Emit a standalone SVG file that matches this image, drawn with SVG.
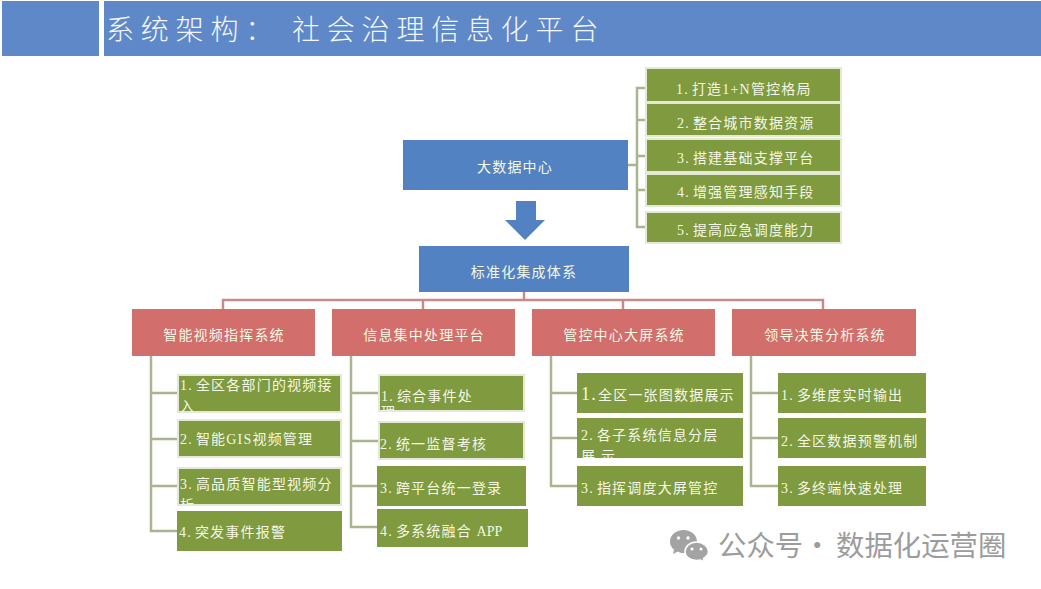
<svg xmlns="http://www.w3.org/2000/svg" width="1041" height="589" viewBox="0 0 1041 589">
  <style>
    text { font-family: "Liberation Serif", "Noto Sans CJK SC", sans-serif; fill: #f4f8e4; font-size: 14px; letter-spacing: 1.2px; }
    .title { font-size: 28px; letter-spacing: 6.8px; fill: #f3f7fb; font-family: "Noto Sans CJK SC", sans-serif; font-weight: 300; }
    .mid { text-anchor: middle; }
    .leaf { fill: #7f9a3f; }
    .ring { fill: #7f9a3f; stroke: #e3e9d5; stroke-width: 2; }
    .blue { fill: #5282c2; }
    .red { fill: #d26e6c; }
    .tree { fill: none; stroke: #a9b58e; stroke-width: 2.5; }
    .bus { fill: none; stroke: #c98a8c; stroke-width: 2.5; }
    .mark { font-size: 28.4px; letter-spacing: 0; fill: #9c9c9c; font-family: "Noto Sans CJK SC", sans-serif; }
    .bubble { fill: #a3a3a3; }
    .eye { fill: #ffffff; }
  </style>
  <defs>
    <clipPath id="clip-a1"><rect x="178" y="375" width="163" height="37"/></clipPath>
    <clipPath id="clip-a3"><rect x="178" y="468" width="163" height="37"/></clipPath>
    <clipPath id="clip-b1"><rect x="379" y="375" width="145" height="36"/></clipPath>
    <clipPath id="clip-c2"><rect x="577" y="418" width="166" height="40"/></clipPath>
  </defs>
  <rect width="1041" height="589" fill="#ffffff"/>

  <g id="header">
    <rect x="2" y="1" width="97" height="55" fill="#5f88c8"/>
    <rect x="104" y="1" width="937" height="55" fill="#5f88c8"/>
    <text class="title" y="40"><tspan x="106">系统架构：</tspan><tspan x="292">社会治理信息化平台</tspan></text>
  </g>

  <g id="connectors">
    <path class="tree" d="M628 165H637M646 88H637V227H646M637 120H646M637 156H646M637 190H646"/>
    <path class="bus" d="M524 292V300M223 309V300H823V309M423 300V309M623 300V309"/>
    <path class="tree" d="M151 356V531H177M151 393H178M151 439H178M151 486H178"/>
    <path class="tree" d="M351 356V527H377M351 393H379M351 441H379M351 486H377"/>
    <path class="tree" d="M551 356V486H577M551 393H577M551 438H577"/>
    <path class="tree" d="M751 356V486H778M751 393H778M751 438H778"/>
  </g>

  <g id="big-data">
    <rect class="blue" x="403" y="140" width="225" height="50"/>
    <text class="mid" x="515" y="172">大数据中心</text>
  </g>
  <g id="flow-arrow">
    <path class="blue" d="M516 201H536V220H545L525 240L505 220H516Z"/>
  </g>
  <g id="integration">
    <rect class="blue" x="419" y="246" width="210" height="46"/>
    <text class="mid" x="524" y="277">标准化集成体系</text>
  </g>

  <g id="goal-1"><rect class="ring" x="646" y="68" width="195" height="34"/><text x="676" y="94">1.<tspan dx="3">打造</tspan>1+N管控格局</text></g>
  <g id="goal-2"><rect class="ring" x="646" y="103" width="195" height="33"/><text x="677" y="128">2.<tspan dx="3">整合城市数据资源</tspan></text></g>
  <g id="goal-3"><rect class="ring" x="646" y="139" width="195" height="33"/><text x="677" y="163">3.<tspan dx="3">搭建基础支撑平台</tspan></text></g>
  <g id="goal-4"><rect class="ring" x="646" y="174" width="195" height="32"/><text x="677" y="197">4.<tspan dx="3">增强管理感知手段</tspan></text></g>
  <g id="goal-5"><rect class="ring" x="646" y="212" width="195" height="31"/><text x="677" y="235">5.<tspan dx="3">提高应急调度能力</tspan></text></g>

  <g id="sys-video"><rect class="red" x="132" y="309" width="183" height="47"/><text class="mid" x="224" y="340">智能视频指挥系统</text></g>
  <g id="sys-process"><rect class="red" x="332" y="309" width="183" height="47"/><text class="mid" x="424" y="340">信息集中处理平台</text></g>
  <g id="sys-screen"><rect class="red" x="532" y="309" width="183" height="47"/><text class="mid" x="624" y="340">管控中心大屏系统</text></g>
  <g id="sys-decision"><rect class="red" x="732" y="309" width="184" height="47"/><text class="mid" x="825" y="340">领导决策分析系统</text></g>

  <g id="video-1"><rect class="ring" x="178" y="375" width="163" height="37"/><g clip-path="url(#clip-a1)"><text x="180" y="390">1.<tspan dx="3">全区各部门的视频接</tspan></text><text x="180" y="411">入</text></g></g>
  <g id="video-2"><rect class="ring" x="178" y="420" width="163" height="37"/><text x="180" y="444">2.<tspan dx="3">智能</tspan>GIS视频管理</text></g>
  <g id="video-3"><rect class="ring" x="178" y="468" width="163" height="37"/><g clip-path="url(#clip-a3)"><text x="180" y="489">3.<tspan dx="3">高品质智能型视频分</tspan></text><text x="180" y="510">析</text></g></g>
  <g id="video-4"><rect class="leaf" x="177" y="511" width="165" height="40"/><text x="179" y="537">4.<tspan dx="3">突发事件报警</tspan></text></g>

  <g id="process-1"><rect class="ring" x="379" y="375" width="145" height="36"/><g clip-path="url(#clip-b1)"><text x="381" y="401">1.<tspan dx="3">综合事件处</tspan></text><text x="381" y="417">理</text></g></g>
  <g id="process-2"><rect class="ring" x="379" y="422" width="145" height="37"/><text x="380" y="449">2.<tspan dx="3">统一监督考核</tspan></text></g>
  <g id="process-3"><rect class="leaf" x="377" y="466" width="149" height="40"/><text x="380" y="493">3.<tspan dx="3">跨平台统一登录</tspan></text></g>
  <g id="process-4"><rect class="leaf" x="377" y="509" width="151" height="38"/><text x="380" y="536">4.<tspan dx="3">多系统融合</tspan> <tspan letter-spacing="0">APP</tspan></text></g>

  <g id="screen-1"><rect class="leaf" x="577" y="373" width="166" height="40"/><text x="581" y="400"><tspan font-size="18">1.</tspan><tspan x="598">全区一张图数据展示</tspan></text></g>
  <g id="screen-2"><rect class="leaf" x="577" y="418" width="166" height="40"/><g clip-path="url(#clip-c2)"><text x="581" y="440">2.<tspan dx="3">各子系统信息分层</tspan></text><text x="581" y="461">展 示</text></g></g>
  <g id="screen-3"><rect class="leaf" x="577" y="466" width="166" height="40"/><text x="581" y="493">3.<tspan dx="3">指挥调度大屏管控</tspan></text></g>

  <g id="decision-1"><rect class="leaf" x="778" y="373" width="148" height="40"/><text x="781" y="400">1.<tspan dx="3">多维度实时输出</tspan></text></g>
  <g id="decision-2"><rect class="leaf" x="778" y="418" width="148" height="40"/><text x="781" y="446">2.<tspan dx="3">全区数据预警机制</tspan></text></g>
  <g id="decision-3"><rect class="leaf" x="778" y="466" width="148" height="40"/><text x="781" y="493">3.<tspan dx="3">多终端快速处理</tspan></text></g>

  <g id="watermark">
    <path class="bubble" d="M683.5 530C676 530 670 535 670 541.500C670 545 671.500 547.500 674 549.500L673 554L678 551.500C679.500 552.500 681.500 553 683.500 553C691 553 697 548 697 541.500C697 535 691 530 683.500 530Z"/>
    <circle class="eye" cx="678.500" cy="538" r="1.700"/>
    <circle class="eye" cx="688" cy="538" r="1.700"/>
    <path class="bubble" stroke="#ffffff" stroke-width="1.500" d="M696.500 542C690 542 685 546.500 685 551.500C685 556.500 690 560.500 696.500 560.500C698 560.500 699.500 560.500 700.500 560L704.500 562L703.500 558.500C706.500 556.500 708.500 554 708.500 551.500C708.500 546.500 703 542 696.500 542Z"/>
    <circle class="eye" cx="692" cy="549" r="1.500"/>
    <circle class="eye" cx="701" cy="549" r="1.500"/>
    <text class="mark" y="556"><tspan x="718">公众号</tspan><tspan x="803">·</tspan><tspan x="836">数据化运营圈</tspan></text>
  </g>
</svg>
